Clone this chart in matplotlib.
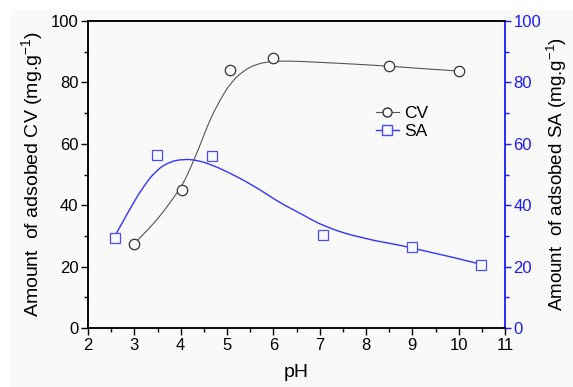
import matplotlib
matplotlib.use("Agg")
import matplotlib.pyplot as plt
from matplotlib.lines import Line2D
from matplotlib.path import Path
from matplotlib.patches import PathPatch, Rectangle
from matplotlib.ticker import MultipleLocator

plt.rcParams['font.family'] = ['Liberation Sans', 'DejaVu Sans']
plt.rcParams['mathtext.fontset'] = 'custom'
plt.rcParams['mathtext.rm'] = 'Liberation Sans'
plt.rcParams['mathtext.it'] = 'Liberation Sans'

# measured adsorption data
ph_cv = [3.0, 4.03, 5.07, 6.0, 8.5, 10.0]
cv_amount = [27.4, 45.0, 84.0, 88.0, 85.3, 83.7]

ph_sa = [2.58, 3.49, 4.68, 7.08, 9.0, 10.49]
sa_amount = [29.3, 56.4, 56.0, 30.3, 26.4, 20.5]

# smoothed trend curves
cv_fit_ph = [3.0, 3.25, 3.5, 3.84, 4.06, 4.24, 4.42, 4.63, 4.85, 5.07, 5.35,
             5.64, 5.93, 6.3, 6.8, 7.7, 8.5, 9.1, 10.0]
cv_fit_val = [27.5, 31.4, 35.4, 42.2, 47.1, 53.1, 59.6, 67.8, 74.3, 79.7, 83.8,
              86.0, 86.8, 87.0, 86.7, 86.0, 85.3, 84.6, 83.7]

sa_fit_ph = [2.6, 2.91, 3.19, 3.48, 3.77, 4.06, 4.35, 4.7, 5.07, 5.4, 5.78,
             6.14, 6.6, 7.1, 7.9, 9.0, 10.5]
sa_fit_val = [30.5, 39.0, 46.0, 51.5, 54.2, 55.0, 54.7, 53.0, 50.4, 47.8, 44.4,
              40.8, 37.2, 33.0, 29.2, 26.3, 20.7]

CV_LINE = '#555555'
CV_EDGE = '#333333'
SA_COLOR = '#3333ff'
SA_EDGE = '#4a4aff'
BLUE_AXIS = '#1a1aff'
BG = '#f9f9f9'


def smooth_path(xs, ys):
    """Quadratic Bezier path through midpoints, using the samples as controls."""
    pts = list(zip(xs, ys))
    verts = [pts[0]]
    codes = [Path.MOVETO]
    for i in range(1, len(pts) - 1):
        mid = ((pts[i][0] + pts[i + 1][0]) / 2, (pts[i][1] + pts[i + 1][1]) / 2)
        if i == len(pts) - 2:
            mid = pts[i + 1]
        verts += [pts[i], mid]
        codes += [Path.CURVE3, Path.CURVE3]
    return Path(verts, codes)


fig = plt.figure(figsize=(5.73, 3.87), dpi=100, facecolor='white')
fig.patches.append(Rectangle((11 / 573, 0), 1, 1 - 10 / 387,
                             transform=fig.transFigure, facecolor=BG,
                             edgecolor='none', zorder=-10))

ax = fig.add_axes([88 / 573, 1 - 328 / 387, (505 - 88) / 573, (328 - 21) / 387])
ax.set_facecolor(BG)
ax2 = ax.twinx()

ax.add_patch(PathPatch(smooth_path(cv_fit_ph, cv_fit_val), facecolor='none',
                       edgecolor=CV_LINE, lw=0.8))
ax.plot(ph_cv, cv_amount, linestyle='none', marker='o', ms=7.5,
        mfc=BG, mec=CV_EDGE, mew=0.9, zorder=5)

ax2.add_patch(PathPatch(smooth_path(sa_fit_ph, sa_fit_val), facecolor='none',
                        edgecolor=SA_COLOR, lw=1.0))
ax2.plot(ph_sa, sa_amount, linestyle='none', marker='s', ms=7.2,
         mfc=BG, mec=SA_EDGE, mew=0.9, zorder=5)

ax.set_xlim(2, 11)
ax.set_ylim(0, 100)
ax2.set_ylim(0, 100)

ax.xaxis.set_major_locator(MultipleLocator(1))
ax.xaxis.set_minor_locator(MultipleLocator(0.5))
ax.yaxis.set_major_locator(MultipleLocator(20))
ax.yaxis.set_minor_locator(MultipleLocator(10))
ax2.yaxis.set_major_locator(MultipleLocator(20))
ax2.yaxis.set_minor_locator(MultipleLocator(10))

ax.tick_params(axis='both', which='major', direction='out', length=5, width=1,
               labelsize=12, pad=2)
ax.tick_params(axis='both', which='minor', direction='out', length=3, width=1)
ax2.tick_params(axis='y', which='major', direction='out', length=4, width=1,
                labelsize=12, colors=BLUE_AXIS, pad=2)
ax2.tick_params(axis='y', which='minor', direction='out', length=3, width=1,
                colors=BLUE_AXIS)

for s in ['left', 'bottom', 'top']:
    ax.spines[s].set_linewidth(1.1)
    ax2.spines[s].set_linewidth(1.1)
ax2.spines['right'].set_color(BLUE_AXIS)
ax2.spines['right'].set_linewidth(1.3)
ax.spines['right'].set_visible(False)

ax.set_xlabel('pH', fontsize=14, labelpad=8)
ax.set_ylabel('Amount  of adsobed CV (mg.g$^{-1}$)', fontsize=14, labelpad=4)
ax2.set_ylabel('Amount  of adsobed SA (mg.g$^{-1}$)', fontsize=13.5, labelpad=3,
               color='black')

handles = [
    Line2D([], [], color=CV_LINE, lw=0.8, marker='o', ms=6.5, mfc=BG, mec=CV_EDGE),
    Line2D([], [], color=SA_COLOR, lw=1.0, marker='s', ms=6.5, mfc=BG, mec=SA_EDGE),
]
ax.legend(handles, ['CV', 'SA'], loc='center left', bbox_to_anchor=(0.67, 0.67),
          frameon=False, fontsize=12.5, handlelength=1.3, handletextpad=0.3,
          labelspacing=0.15, borderpad=0)

fig.savefig('out.png', dpi=100, facecolor=fig.get_facecolor())
